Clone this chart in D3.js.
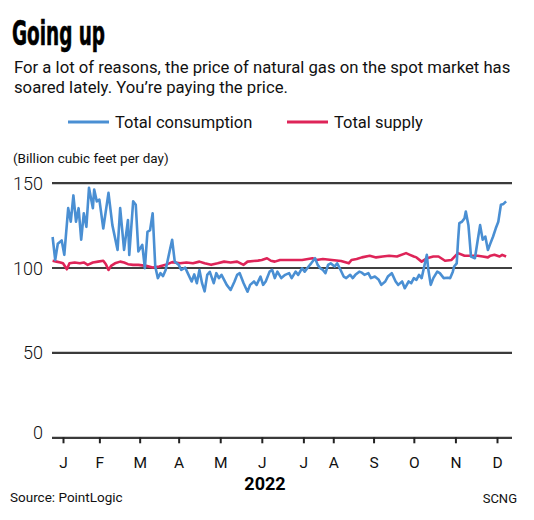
<!DOCTYPE html>
<html>
<head>
<meta charset="utf-8">
<script src="https://cdn.jsdelivr.net/npm/d3@7"></script>
<style>
  html, body { margin: 0; padding: 0; background: #fff; }
  svg { display: block; }
  text { font-family: Roboto, "Noto Sans", sans-serif; fill: #111; }
</style>
</head>
<body>
<svg id="chart" width="534" height="520"></svg>
<script>
// ---------- DATA ----------
const consumptionDates = [
  "2021-12-24","2021-12-26","2021-12-28","2021-12-31","2022-01-02","2022-01-05","2022-01-07","2022-01-09",
  "2022-01-11","2022-01-13","2022-01-15","2022-01-17","2022-01-19","2022-01-21","2022-01-24","2022-01-25",
  "2022-01-27","2022-01-29","2022-02-01","2022-02-05","2022-02-08","2022-02-12","2022-02-14","2022-02-17",
  "2022-02-20","2022-02-21","2022-02-24","2022-02-26","2022-02-28","2022-03-03","2022-03-05","2022-03-07",
  "2022-03-09","2022-03-11","2022-03-13","2022-03-15","2022-03-17","2022-03-19","2022-03-21","2022-03-24",
  "2022-03-26","2022-03-28","2022-03-31","2022-04-02","2022-04-05","2022-04-07","2022-04-10","2022-04-12",
  "2022-04-14","2022-04-16","2022-04-18","2022-04-20","2022-04-22","2022-04-24","2022-04-27","2022-04-29",
  "2022-05-01","2022-05-03","2022-05-05","2022-05-07","2022-05-10","2022-05-13","2022-05-15","2022-05-17",
  "2022-05-20","2022-05-23","2022-05-25","2022-05-28","2022-05-30","2022-06-02","2022-06-04","2022-06-06",
  "2022-06-09","2022-06-11","2022-06-13","2022-06-15","2022-06-18","2022-06-21","2022-06-24","2022-06-26",
  "2022-06-29","2022-07-01","2022-07-04","2022-07-06","2022-07-09","2022-07-11","2022-07-14","2022-07-16",
  "2022-07-18","2022-07-20","2022-07-22","2022-07-24","2022-07-26","2022-07-29","2022-07-31","2022-08-02",
  "2022-08-05","2022-08-07","2022-08-10","2022-08-12","2022-08-14","2022-08-17","2022-08-19","2022-08-21",
  "2022-08-24","2022-08-26","2022-08-29","2022-09-01","2022-09-03","2022-09-06","2022-09-08","2022-09-11",
  "2022-09-14","2022-09-16","2022-09-19","2022-09-21","2022-09-24","2022-09-26","2022-09-28","2022-09-30",
  "2022-10-02","2022-10-04","2022-10-06","2022-10-08","2022-10-09","2022-10-11","2022-10-13","2022-10-16",
  "2022-10-18","2022-10-21","2022-10-24","2022-10-26","2022-10-28","2022-10-29","2022-10-31","2022-11-01",
  "2022-11-02","2022-11-04","2022-11-06","2022-11-07","2022-11-09","2022-11-11","2022-11-14","2022-11-16",
  "2022-11-18","2022-11-20","2022-11-22","2022-11-24","2022-11-26","2022-11-28","2022-11-30","2022-12-02",
  "2022-12-04","2022-12-06","2022-12-08"
];
const consumptionValues = [
  118,104.5,114,116,107.5,135,127,142.5,
  127,135,116.4,132,124,147,135,146,
  139,140,123,144,125,110.4,135,110.4,
  128,107.5,139,137,109.5,113.4,99.6,121,
  122,132,100.6,93.8,96.7,95,98.6,109.5,
  116.4,103.5,101.6,98.6,100,96.7,91.8,96,
  90.8,98.6,90.8,86,95.7,97.5,90.8,96.7,
  93.8,95.7,92.8,89.8,86.8,91.8,95.7,96.7,
  90.8,85.8,89.8,91.8,89.8,94.7,89.8,91.8,
  97.6,98.6,93.8,97.6,93.8,95.7,96.7,93.8,
  97.6,95.7,99.6,97.6,100.6,102.5,105.5,101.6,
  99.6,98.6,96.7,101.6,102.5,100.6,102.5,99.6,
  94.7,93.8,95.7,93.8,95.7,97.6,97,95.7,
  96.7,93.8,94.7,92.8,89.8,91.8,94.7,96.7,
  91.8,89.8,91.8,87.8,91.8,90.8,93.8,92.8,
  95.7,93.8,100.6,107.5,99.6,89.8,93.8,97.6,
  96.7,93.8,94,93.8,97.6,100.6,102.5,115.4,
  126.2,127,129,133,125,106.5,105.5,115.4,
  125,116.4,118.3,110.4,114.4,118.3,123,127,
  137,137.5,139
];
const supplyDates = [
  "2021-12-24","2021-12-27","2021-12-30","2022-01-01","2022-01-04","2022-01-06","2022-01-10","2022-01-14",
  "2022-01-17","2022-01-20","2022-01-24","2022-01-28","2022-02-01","2022-02-03","2022-02-05","2022-02-07",
  "2022-02-10","2022-02-14","2022-02-17","2022-02-20","2022-02-24","2022-02-28","2022-03-06","2022-03-11",
  "2022-03-16","2022-03-21","2022-03-26","2022-04-01","2022-04-06","2022-04-11","2022-04-16","2022-04-20",
  "2022-04-25","2022-04-30","2022-05-05","2022-05-10","2022-05-15","2022-05-20","2022-05-23","2022-05-31",
  "2022-06-03","2022-06-07","2022-06-10","2022-06-13","2022-06-17","2022-06-20","2022-06-26","2022-07-04",
  "2022-07-12","2022-07-15","2022-07-20","2022-07-27","2022-08-03","2022-08-09","2022-08-11","2022-08-15",
  "2022-08-19","2022-08-25","2022-08-30","2022-09-04","2022-09-09","2022-09-15","2022-09-22","2022-09-25",
  "2022-09-28","2022-09-30","2022-10-04","2022-10-08","2022-10-13","2022-10-17","2022-10-22","2022-10-27",
  "2022-11-01","2022-11-06","2022-11-11","2022-11-16","2022-11-20","2022-11-24","2022-11-26","2022-11-29",
  "2022-12-03","2022-12-05","2022-12-08"
];
const supplyValues = [
  104,103.5,103,102.5,99,102.5,103,102.5,
  103,101.6,103,103.5,104,102,98.6,101,
  102.5,103.5,103,102,101.6,101.6,101,100,
  100.6,101.6,103.2,102.5,103,102.5,103.5,102.5,
  101.6,102.5,103.5,103,103.5,101.6,103.5,104.1,
  104.5,105.5,104,103.5,104.5,104.5,104.5,104.5,
  105.5,104.5,105,104.5,103.9,102.5,104.5,105,
  106,107,106,106.5,107,106.5,108.5,107.5,
  106.5,106,103.5,105.5,106.5,106.5,104,104.5,
  108.5,107,107,107,106.5,106,107,107.5,
  106.5,107.5,106.5
];
const yTicks = [0, 50, 100, 150];
const monthLabels = ["J","F","M","A","M","J","J","A","S","O","N","D"];
const monthTickDates = ["2022-01-01","2022-01-29","2022-03-01","2022-03-31","2022-05-02","2022-06-03",
  "2022-07-05","2022-07-28","2022-08-28","2022-09-28","2022-10-30","2022-12-01"];
const seriesNames = ["Total consumption", "Total supply"];
const seriesColors = ["#4a8fd3", "#de2458"];

// ---------- CHART ----------
const parse = d3.timeParse("%Y-%m-%d");
const svg = d3.select("#chart");

const plotLeft = 52, plotRight = 512;
const x = d3.scaleTime()
  .domain([parse("2022-01-01"), parse("2022-12-01")])
  .range([63, 497]);
const y = d3.scaleLinear().domain([0, 150]).range([437.3, 182.7]);

// Title & subtitle
svg.append("text")
  .attr("x", 12).attr("y", 44.5)
  .attr("textLength", 93).attr("lengthAdjust", "spacingAndGlyphs")
  .style("font-family", "'Liberation Sans Narrow', 'DejaVu Sans Condensed', Roboto, sans-serif")
  .style("font-weight", "bold").style("font-size", "33px").style("fill", "#000")
  .style("stroke", "#000").style("stroke-width", 0.6)
  .text("Going up");

const sub = ["For a lot of reasons, the price of natural gas on the spot market has",
             "soared lately. You\u2019re paying the price."];
sub.forEach((s, i) => {
  svg.append("text").attr("x", 14).attr("y", 73.3 + i * 19.4)
    .style("font-size", "16.7px").text(s);
});

// Legend
const legendX = [68, 287];
seriesNames.forEach((n, i) => {
  svg.append("line").attr("x1", legendX[i]).attr("x2", legendX[i] + 41)
    .attr("y1", 122).attr("y2", 122)
    .attr("stroke", seriesColors[i]).attr("stroke-width", 3);
  svg.append("text").attr("x", legendX[i] + 47).attr("y", 128.3)
    .style("font-size", "16.5px").text(n);
});

// Unit label
svg.append("text").attr("x", 13).attr("y", 163)
  .style("font-size", "13.5px").text("(Billion cubic feet per day)");

// Y grid + labels
const yAxis = svg.append("g").attr("transform", `translate(${plotLeft},0)`)
  .call(d3.axisLeft(y).tickValues(yTicks).tickSize(-(plotRight - plotLeft)).tickPadding(9));
yAxis.select(".domain").remove();
yAxis.selectAll(".tick line")
  .attr("stroke", d => d === 100 ? "#000" : "#3a3a3a")
  .attr("stroke-width", d => d === 100 ? 1.6 : 2.2);
yAxis.selectAll(".tick text")
  .style("font-family", "Roboto, sans-serif").style("font-weight", 300)
  .style("font-size", "18px").style("fill", "#111")
  .attr("dy", d => d === 0 ? "0.05em" : "0.36em");

// X axis
const xAxis = svg.append("g").attr("transform", `translate(0,${y(0)})`)
  .call(d3.axisBottom(x).tickValues(monthTickDates.map(parse))
    .tickFormat((d, i) => monthLabels[i]).tickSize(6));
xAxis.select(".domain").remove();
xAxis.selectAll(".tick line").attr("stroke", "#222").attr("stroke-width", 2);
xAxis.selectAll(".tick text")
  .attr("y", 30.3).attr("dy", 0)
  .style("font-family", "Roboto, sans-serif")
  .style("font-size", "15.5px").style("fill", "#111");

svg.append("text").attr("x", 265).attr("y", 489.5).attr("text-anchor", "middle")
  .style("font-weight", "bold").style("font-size", "18px").style("fill", "#000").text("2022");

// Lines
const line = d3.line().x(d => x(d.date)).y(d => y(d.value)).curve(d3.curveLinear);
const consumption = consumptionDates.map((d, i) => ({ date: parse(d), value: consumptionValues[i] }));
const supply = supplyDates.map((d, i) => ({ date: parse(d), value: supplyValues[i] }));

svg.append("path").datum(supply).attr("d", line)
  .attr("fill", "none").attr("stroke", seriesColors[1]).attr("stroke-width", 2.6)
  .attr("stroke-linejoin", "round");
svg.append("path").datum(consumption).attr("d", line)
  .attr("fill", "none").attr("stroke", seriesColors[0]).attr("stroke-width", 2.6)
  .attr("stroke-linejoin", "round");

// Footer
svg.append("text").attr("x", 10).attr("y", 502).style("font-size", "13.5px").text("Source: PointLogic");
svg.append("text").attr("x", 517).attr("y", 503).attr("text-anchor", "end")
  .style("font-size", "13px").text("SCNG");
</script>
</body>
</html>
